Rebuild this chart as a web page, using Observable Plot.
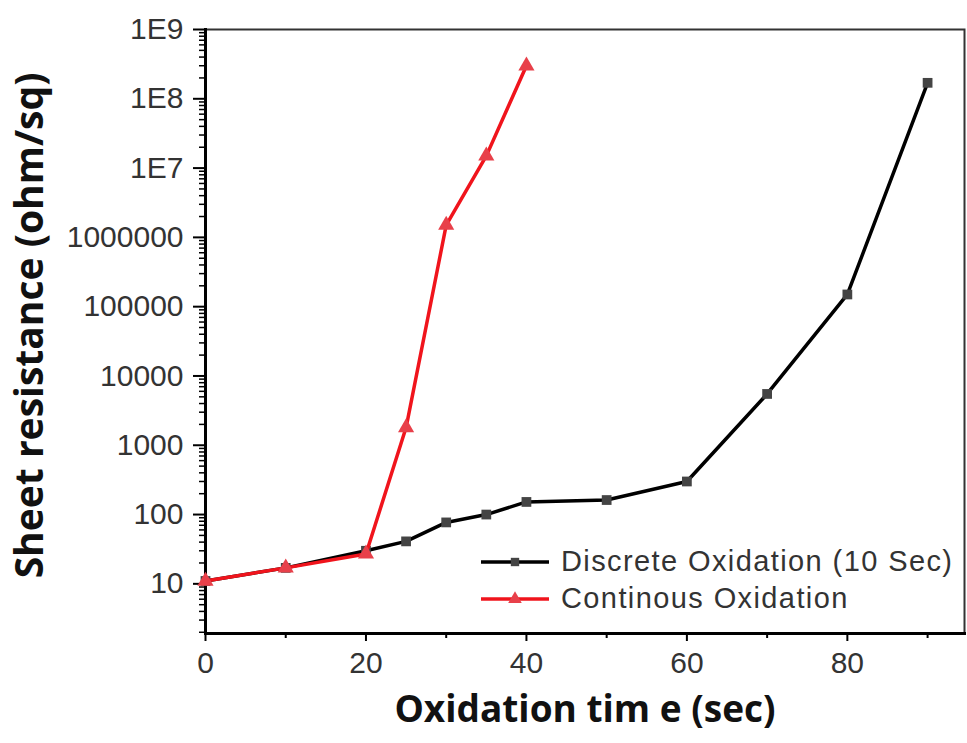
<!DOCTYPE html>
<html><head><meta charset="utf-8">
<script src="https://cdn.jsdelivr.net/npm/d3@7"></script>
<script src="https://cdn.jsdelivr.net/npm/@observablehq/plot@0.6"></script>
<style>
body{margin:0;background:#fff;}
#wrap{position:relative;width:967px;height:743px;font-family:"Liberation Sans",Arial,sans-serif;}
#legend{position:absolute;left:481px;top:543px;font-size:29px;color:#333;letter-spacing:1.4px;}
#legend .row{display:flex;align-items:center;height:37px;}
#legend svg{margin-right:12px;}
</style></head><body><div id="wrap"></div>
<script>
// Data
const discreteTime = [0, 10, 20, 25, 30, 35, 40, 50, 60, 70, 80, 90];
const discreteRes  = [11, 17, 30, 41, 77, 100, 152, 162, 300, 5500, 150000, 1.7e8];
const contTime = [0, 10, 20, 25, 30, 35, 40];
const contRes  = [11, 17, 27, 1800, 1.5e6, 1.5e7, 3e8];
const yTicks = [10, 100, 1000, 1e4, 1e5, 1e6, 1e7, 1e8, 1e9];
const yTickLabels = ["10", "100", "1000", "10000", "100000", "1000000", "1E7", "1E8", "1E9"];
const xTicks = [0, 20, 40, 60, 80];
const xMinorTicks = [10, 30, 50, 70, 90];
const seriesNames = ["Discrete Oxidation (10 Sec)", "Continous Oxidation"];
const seriesColors = ["#000000", "#f0141c"];
const markerColors = ["#444444", "#e8404a"];
const xTitle = "Oxidation tim e (sec)";
const yTitle = "Sheet resistance (ohm/sq)";

const discrete = discreteTime.map((t, i) => ({t, r: discreteRes[i]}));
const cont = contTime.map((t, i) => ({t, r: contRes[i]}));
const yMinor = [];
for (let e = 0; e < 9; e++) for (let m = 2; m <= 9; m++) { const v = m * 10 ** e; if (v > 1.95 && v < 1e9) yMinor.push(v); }

const chart = Plot.plot({
  width: 967, height: 743,
  marginLeft: 205, marginRight: 3, marginTop: 29, marginBottom: 110,
  style: {fontFamily: '"Liberation Sans", Arial, sans-serif', background: "#fff"},
  x: {domain: [0, 94.6]},
  y: {type: "log", domain: [1.92, 1e9]},
  marks: [
    Plot.frame({stroke: "#333", strokeWidth: 2}),
    Plot.axisY(yMinor, {tickSize: 6, tickFormat: () => "", label: null, stroke: "#000", strokeWidth: 1.5}),
    Plot.axisY(yTicks, {tickSize: 12, tickPadding: 10, tickFormat: d => yTickLabels[yTicks.indexOf(d)], fontSize: 30, fill: "#333", stroke: "#000", strokeWidth: 2, label: null}),
    Plot.axisX(xMinorTicks, {tickSize: 5, tickFormat: () => "", label: null, stroke: "#000", strokeWidth: 2}),
    Plot.axisX(xTicks, {tickSize: 8, tickPadding: 10, fontSize: 30, fill: "#333", stroke: "#000", strokeWidth: 2, label: null}),
    Plot.frame({anchor: "left", stroke: "#000", strokeWidth: 3}),
    Plot.frame({anchor: "bottom", stroke: "#000", strokeWidth: 3}),
    Plot.line(discrete, {x: "t", y: "r", stroke: seriesColors[0], strokeWidth: 3.5}),
    Plot.dot(discrete, {x: "t", y: "r", symbol: "square", r: 5.5, fill: markerColors[0], stroke: null}),
    Plot.line(cont, {x: "t", y: "r", stroke: seriesColors[1], strokeWidth: 3.5}),
    Plot.dot(cont, {x: "t", y: "r", symbol: "triangle", r: 6, fill: markerColors[1], stroke: null}),
    Plot.text([xTitle], {frameAnchor: "bottom", dy: 88, fontSize: 37, fontWeight: "bold", fill: "#111", fontFamily: '"Open Sans", sans-serif'}),
    Plot.text([yTitle], {frameAnchor: "left", textAnchor: "middle", dx: -175, dy: -6, rotate: -90, fontSize: 39, fontWeight: "bold", fill: "#111", fontFamily: '"Open Sans", sans-serif'})
  ]
});
const wrap = document.getElementById("wrap");
wrap.appendChild(chart);

const legend = document.createElement("div");
legend.id = "legend";
seriesNames.forEach((name, i) => {
  const row = document.createElement("div");
  row.className = "row";
  const sw = d3.create("svg").attr("width", 68).attr("height", 20);
  sw.append("line").attr("x1", 0).attr("x2", 68).attr("y1", 10).attr("y2", 10).attr("stroke", seriesColors[i]).attr("stroke-width", 3.5);
  sw.append("path").attr("d", d3.symbol(i === 0 ? d3.symbolSquare : d3.symbolTriangle, i === 0 ? 70 : 80)()).attr("transform", "translate(34,10)").attr("fill", markerColors[i]);
  row.appendChild(sw.node());
  const span = document.createElement("span");
  span.textContent = name;
  row.appendChild(span);
  legend.appendChild(row);
});
wrap.appendChild(legend);
</script>
</body></html>
